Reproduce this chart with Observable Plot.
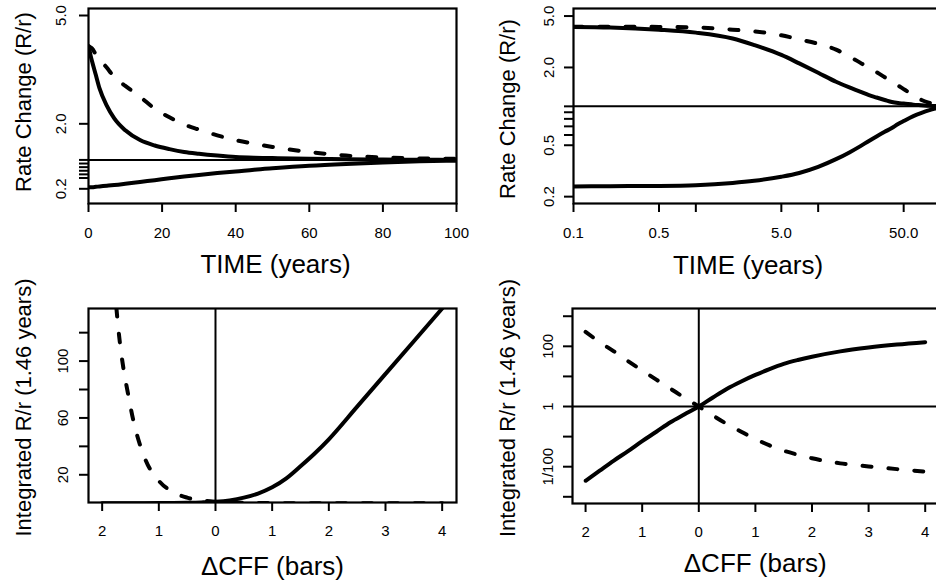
<!DOCTYPE html>
<html><head><meta charset="utf-8">
<script src="https://cdn.jsdelivr.net/npm/d3@7"></script>
<script src="https://cdn.jsdelivr.net/npm/@observablehq/plot@0.6"></script>
<style>
body{margin:0;background:#fff;}
#wrap{position:relative;width:936px;height:585px;overflow:hidden;background:#fff;}
#wrap svg{position:absolute;max-width:none;}
</style></head><body><div id="wrap"></div>
<script>
// ---- Rate change vs time (top panels) ----
const timeYears      = [0, 0.1, 0.2, 0.5, 1, 2, 3, 5, 7, 10, 14, 18, 22, 26, 30, 35, 40, 45, 50, 60, 70, 80, 90, 100];
const rateUpSolid    = [4.15, 4.12, 4.08, 3.92, 3.72, 3.35, 2.98, 2.50, 2.15, 1.82, 1.55, 1.40, 1.30, 1.22, 1.17, 1.12, 1.08, 1.06, 1.05, 1.03, 1.02, 1.01, 1.005, 1.0];
const rateUpDashed   = [4.15, 4.14, 4.14, 4.12, 4.08, 3.92, 3.80, 3.55, 3.30, 3.05, 2.75, 2.42, 2.18, 1.98, 1.84, 1.68, 1.55, 1.45, 1.36, 1.22, 1.12, 1.07, 1.04, 1.03];
const rateDownSolid  = [0.24, 0.24, 0.241, 0.242, 0.245, 0.255, 0.265, 0.285, 0.305, 0.34, 0.39, 0.44, 0.49, 0.54, 0.585, 0.635, 0.68, 0.73, 0.77, 0.84, 0.89, 0.93, 0.96, 0.98];

// ---- Integrated R/r vs ΔCFF (bottom panels) ----
const cffBars          = [-2, -1.75, -1.5, -1.25, -1, -0.75, -0.5, -0.25, 0, 0.25, 0.5, 0.75, 1, 1.25, 1.5, 1.75, 2, 2.5, 3, 3.5, 4];
const integratedSolid  = [0.0034, 0.0074, 0.016, 0.033, 0.071, 0.145, 0.30, 0.55, 1.0, 2.0, 3.9, 6.8, 11.2, 17.5, 26, 35, 45, 68, 91, 114, 137];
const integratedDashed = [302, 138, 68, 32, 15.8, 7.8, 3.9, 1.95, 1.0, 0.5, 0.26, 0.145, 0.083, 0.051, 0.034, 0.025, 0.019, 0.0129, 0.0102, 0.0083, 0.0069];

// ---- ticks ----
const tlXTicks = [0, 20, 40, 60, 80, 100];
const tlYLabeled = [5, 2, 0.2];
const tlYMinor = [1, 0.9, 0.8, 0.7, 0.6, 0.5];
const trXTicks = [0.1, 0.5, 1, 5, 10, 50, 100];
const trXLabels = [[0.1, "0.1"], [0.5, "0.5"], [5, "5.0"], [50, "50.0"]];
const trYLabeled = [5, 2, 0.5, 0.2];
const trYMinor = [1, 0.9, 0.8, 0.7, 0.6];
const bXTicks = [-2, -1, 0, 1, 2, 3, 4];
const blYTicks = [20, 40, 60, 80, 100, 120];
const blYLabeled = [20, 60, 100];
const brYTicks = [0.001, 0.01, 0.1, 1, 10, 100, 1000];
const brYLabels = [[100, "100"], [1, "1"], [0.01, "1/100"]];

const timeRows = timeYears.map((t, i) => ({t, up: rateUpSolid[i], upDash: rateUpDashed[i], down: rateDownSolid[i]}));
const cffRows = cffBars.map((c, i) => ({c, solid: integratedSolid[i], dashed: integratedDashed[i]}));

const font = '"Liberation Sans", Arial, Helvetica, sans-serif';
const wrap = document.getElementById("wrap");
const LW = 4, DASH = "9,17";

function panel(left, top, opts) {
  const svg = Plot.plot({
    ...opts,
    style: {fontFamily: font, background: "transparent", color: "#000", overflow: "visible"}
  });
  svg.style.left = left + "px";
  svg.style.top = top + "px";
  wrap.appendChild(svg);
}

const axisCommon = {tickSize: 9, strokeWidth: 2, label: null, fontSize: 15};
const yTickText = {frameAnchor: "left", rotate: -90, fontSize: 15, textAnchor: "middle", lineAnchor: "middle"};
const yTitle = {frameAnchor: "left", rotate: -90, fontSize: 22, textAnchor: "middle", lineAnchor: "middle"};
const xTitle = {frameAnchor: "bottom", fontSize: 26, textAnchor: "middle", lineAnchor: "middle"};

// Top-left
panel(0, 0, {
  width: 470, height: 290, marginLeft: 88, marginRight: 14, marginTop: 8, marginBottom: 87,
  x: {domain: [0, 100]},
  y: {domain: [-0.207, 5.194]},
  marks: [
    Plot.ruleY([1], {strokeWidth: 2}),
    Plot.line(timeRows, {x: "t", y: "up", strokeWidth: LW, curve: "monotone-x", clip: true}),
    Plot.line(timeRows, {x: "t", y: "upDash", strokeWidth: LW, strokeDasharray: DASH, strokeLinecap: "round", curve: "monotone-x", clip: true}),
    Plot.line(timeRows, {x: "t", y: "down", strokeWidth: LW, curve: "monotone-x", clip: true}),
    Plot.frame({strokeWidth: 2.2}),
    Plot.axisX(tlXTicks, {...axisCommon, tickPadding: 15}),
    Plot.axisY(tlYLabeled.concat(tlYMinor), {...axisCommon, tickFormat: () => ""}),
    Plot.text(tlYLabeled, {...yTickText, y: d => d, text: d => d.toFixed(1), dx: -27}),
    Plot.text(["Rate Change (R/r)"], {...yTitle, dx: -65, dy: -4}),
    Plot.text(["TIME (years)"], {...xTitle, dx: 3, dy: 61})
  ]
});

// Top-right
const trRows = timeRows.filter(d => d.t > 0);
panel(470, 0, {
  width: 470, height: 290, marginLeft: 103, marginRight: 0, marginTop: 8, marginBottom: 87,
  x: {type: "log", domain: [0.1, 100]},
  y: {type: "log", domain: [0.177, 5.72]},
  marks: [
    Plot.ruleY([1], {strokeWidth: 2}),
    Plot.line(trRows, {x: "t", y: "up", strokeWidth: LW, curve: "monotone-x", clip: true}),
    Plot.line(trRows, {x: "t", y: "upDash", strokeWidth: LW, strokeDasharray: DASH, strokeLinecap: "round", curve: "monotone-x", clip: true}),
    Plot.line(trRows, {x: "t", y: "down", strokeWidth: LW, curve: "monotone-x", clip: true}),
    Plot.frame({strokeWidth: 2.2}),
    Plot.axisX(trXTicks, {...axisCommon, tickFormat: () => ""}),
    Plot.text(trXLabels, {x: d => d[0], text: d => d[1], frameAnchor: "bottom", fontSize: 15, textAnchor: "middle", lineAnchor: "middle", dy: 29.5}),
    Plot.axisY(trYLabeled.concat(trYMinor), {...axisCommon, tickFormat: () => ""}),
    Plot.text(trYLabeled, {...yTickText, y: d => d, text: d => d.toFixed(1), dx: -24}),
    Plot.text(["Rate Change (R/r)"], {...yTitle, dx: -66, dy: 3}),
    Plot.text(["TIME (years)"], {...xTitle, dx: -9, dy: 62.5})
  ]
});

// Bottom-left
panel(0, 290, {
  width: 470, height: 295, marginLeft: 88, marginRight: 14, marginTop: 18, marginBottom: 83,
  x: {domain: [-2.241, 4.253]},
  y: {domain: [0.5, 137]},
  marks: [
    Plot.ruleX([0], {strokeWidth: 2}),
    Plot.line(cffRows, {x: "c", y: "solid", strokeWidth: LW, curve: "monotone-x", clip: true}),
    Plot.line(cffRows, {x: "c", y: "dashed", strokeWidth: LW, strokeDasharray: DASH, strokeLinecap: "round", curve: "monotone-x", clip: true}),
    Plot.frame({strokeWidth: 2.2}),
    Plot.axisX(bXTicks, {...axisCommon, tickPadding: 14, tickFormat: d => String(Math.abs(d))}),
    Plot.axisY(blYTicks, {...axisCommon, tickFormat: () => ""}),
    Plot.text(blYLabeled, {...yTickText, y: d => d, text: d => String(d), dx: -25}),
    Plot.text(["Integrated R/r (1.46 years)"], {...yTitle, dx: -65, dy: 2}),
    Plot.text(["\u0394CFF (bars)"], {...xTitle, dy: 64})
  ]
});

// Bottom-right
panel(470, 290, {
  width: 470, height: 295, marginLeft: 102, marginRight: 2.5, marginTop: 18, marginBottom: 82,
  x: {domain: [-2.231, 4.226]},
  y: {type: "log", domain: [Math.pow(10, -3.223), Math.pow(10, 3.257)]},
  marks: [
    Plot.ruleX([0], {strokeWidth: 2}),
    Plot.ruleY([1], {strokeWidth: 2}),
    Plot.line(cffRows, {x: "c", y: "solid", strokeWidth: LW, curve: "monotone-x", clip: true}),
    Plot.line(cffRows, {x: "c", y: "dashed", strokeWidth: LW, strokeDasharray: DASH, strokeLinecap: "round", curve: "monotone-x", clip: true}),
    Plot.frame({strokeWidth: 2.2}),
    Plot.axisX(bXTicks, {...axisCommon, tickPadding: 14, tickFormat: d => String(Math.abs(d))}),
    Plot.axisY(brYTicks, {...axisCommon, tickFormat: () => ""}),
    Plot.text(brYLabels, {...yTickText, y: d => d[0], text: d => d[1], dx: -24}),
    Plot.text(["Integrated R/r (1.46 years)"], {...yTitle, dx: -65, dy: 2}),
    Plot.text(["\u0394CFF (bars)"], {...xTitle, dy: 60})
  ]
});
</script></body></html>
